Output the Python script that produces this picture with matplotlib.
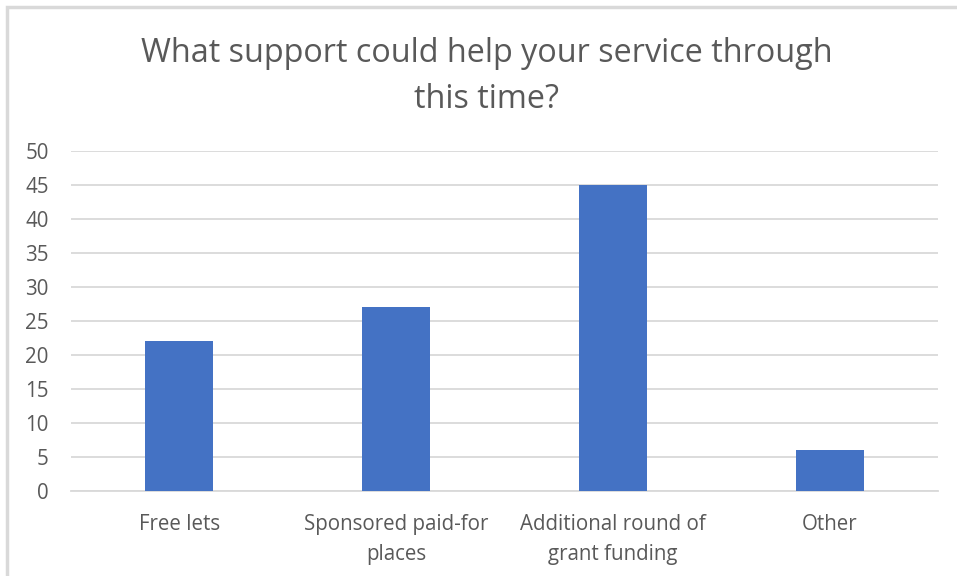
import matplotlib.pyplot as plt
from matplotlib.patches import Rectangle

categories = ["Free lets", "Sponsored paid-for\nplaces", "Additional round of\ngrant funding", "Other"]
counts = [22, 27, 45, 6]
yticks = [0, 5, 10, 15, 20, 25, 30, 35, 40, 45, 50]

W, H = 957, 576
fig = plt.figure(figsize=(W / 100, H / 100), dpi=100)
plt.rcParams['font.family'] = ['Open Sans', 'DejaVu Sans']

# chart border (runs off the right and bottom edges)
fig.patches.append(Rectangle((6.5 / W, -0.1), 1.2, 1.1 - 6.5 / H,
                             transform=fig.transFigure, fill=False,
                             edgecolor="#d9d9d9", linewidth=2.5))

ax = fig.add_axes([71 / W, (H - 491) / H, (938 - 71) / W, (491 - 151) / H])
x = range(len(categories))
ax.bar(x, counts, width=0.313, color="#4472c4", zorder=3)

ax.set_xlim(-0.5, len(categories) - 0.5)
ax.set_ylim(0, 50)
ax.set_yticks(yticks)
ax.set_xticks(list(x))
ax.set_xticklabels(categories, fontsize=14.8, color="#595959", linespacing=1.55)
ax.tick_params(axis="y", labelsize=14.8, labelcolor="#595959", length=0, pad=16)
ax.tick_params(axis="x", length=0, pad=16.5)
ax.grid(axis="y", color="#d9d9d9", linewidth=1.3, zorder=0)
for s in ["top", "right", "left"]:
    ax.spines[s].set_visible(False)
ax.spines["bottom"].set_color("#d9d9d9")
ax.spines["bottom"].set_linewidth(1.3)

fig.text(487 / W, 1 - 76.5 / H, "What support could help your service through\nthis time?",
         ha="center", va="center", fontsize=23.3, color="#595959", linespacing=1.52)

fig.savefig("out.png", dpi=100)
